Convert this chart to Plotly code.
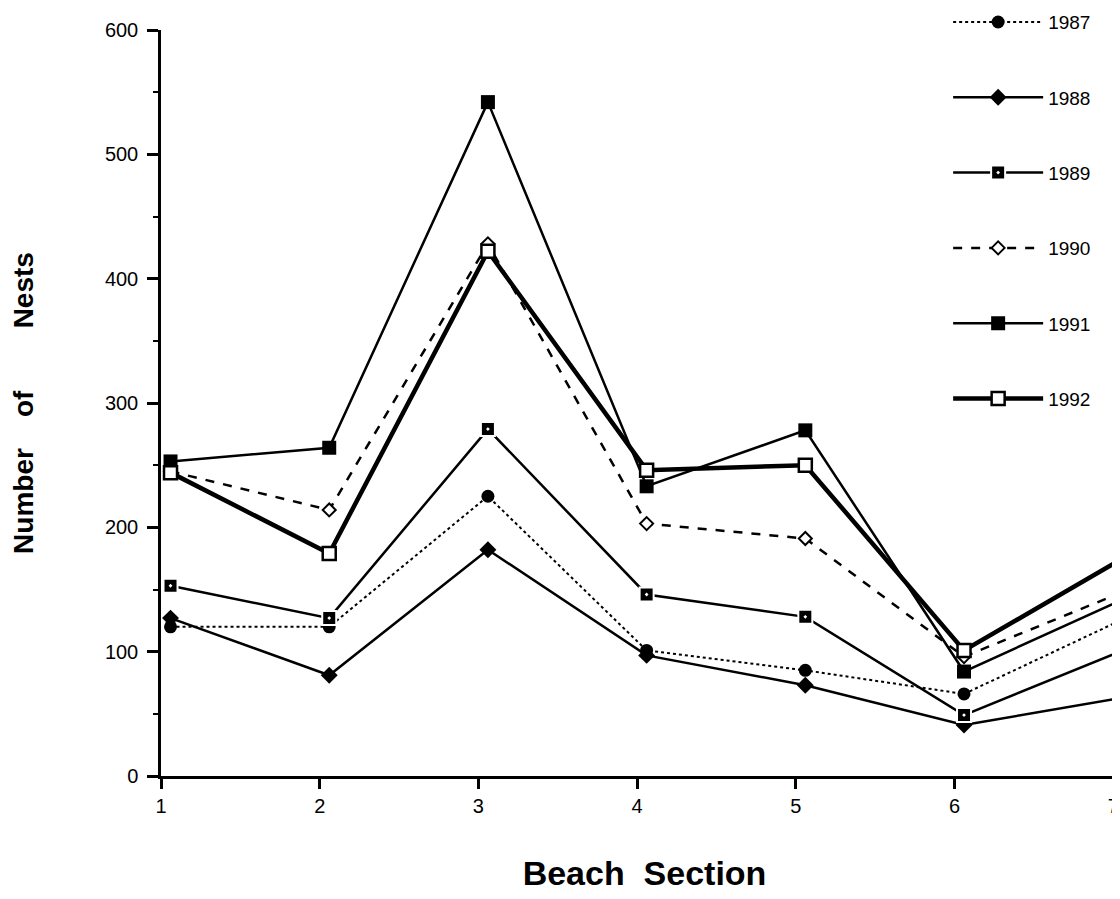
import plotly.graph_objects as go

# ── Data ─────────────────────────────────────────────────────────────────────
SECTIONS = [1, 2, 3, 4, 5, 6, 7]
TICK_TEXT = ["1", "2", "3", "4", "5", "6", "7"]
Y_TICKS = [0, 100, 200, 300, 400, 500, 600]

NESTS_1987 = [120, 120, 225, 101, 85, 66, 126]
NESTS_1988 = [127, 81, 182, 97, 73, 41, 63]
NESTS_1989 = [153, 127, 279, 146, 128, 49, 101]
NESTS_1990 = [245, 214, 428, 203, 191, 96, 148]
NESTS_1991 = [253, 264, 542, 233, 278, 84, 142]
NESTS_1992 = [244, 179, 422, 246, 250, 101, 175]

BLACK = "#000000"
WHITE = "#ffffff"
FONT = "Liberation Sans, Arial, Helvetica, sans-serif"
NB = "\u00a0"

# markers sit a little to the right of the tick marks in the original
TICK_SHIFT = 0.06
PX_PER_SECTION = 158.7

series = [
    ("1987", NESTS_1987, dict(color=BLACK, width=2, dash="dot"),
     dict(symbol="circle", size=13, color=BLACK)),
    ("1988", NESTS_1988, dict(color=BLACK, width=2.5),
     dict(symbol="diamond", size=13, color=BLACK)),
    ("1989", NESTS_1989, dict(color=BLACK, width=2.5),
     dict(symbol="square-dot", size=14, color=BLACK, line=dict(color=WHITE, width=2))),
    ("1990", NESTS_1990, dict(color=BLACK, width=2.5, dash="dash"),
     dict(symbol="diamond", size=10, color=WHITE, line=dict(color=BLACK, width=2))),
    ("1991", NESTS_1991, dict(color=BLACK, width=2.5),
     dict(symbol="square", size=14, color=BLACK)),
    ("1992", NESTS_1992, dict(color=BLACK, width=4.5),
     dict(symbol="square", size=13, color=WHITE, line=dict(color=BLACK, width=2.5))),
]

fig = go.Figure()
for name, values, line, marker in series:
    fig.add_trace(go.Scatter(
        x=SECTIONS, y=values, name=name, legendgroup=name,
        mode="lines+markers", line=line, marker=marker,
    ))

# the page body adds an 8px offset, margins are set to compensate
LEFT, TOP, BOTTOM = 153, 22, 131
plot_w = 1120 - LEFT

fig.update_layout(
    width=1120, height=899,
    margin=dict(l=LEFT, r=0, t=TOP, b=BOTTOM, autoexpand=False),
    paper_bgcolor=WHITE, plot_bgcolor=WHITE,
    font=dict(family=FONT, color=BLACK, size=20),
    showlegend=True,
    legend=dict(
        x=0.814, y=1.036, xanchor="left", yanchor="top",
        font=dict(size=19, family=FONT, color=BLACK),
        tracegroupgap=47.6, itemwidth=90, bgcolor="rgba(0,0,0,0)",
    ),
    xaxis=dict(
        range=[SECTIONS[0] - TICK_SHIFT, SECTIONS[0] - TICK_SHIFT + plot_w / PX_PER_SECTION],
        tickmode="array", tickvals=[s - TICK_SHIFT for s in SECTIONS], ticktext=TICK_TEXT,
        showline=True, linecolor=BLACK, linewidth=2.5,
        ticks="outside", ticklen=10, tickwidth=2.5, tickcolor=BLACK,
        showgrid=False, zeroline=False,
        tickfont=dict(size=20),
        title=dict(text=f"<b>Beach{NB*2}Section</b>", font=dict(size=34), standoff=46),
    ),
    yaxis=dict(
        range=[0, 600], tickmode="array", tickvals=Y_TICKS,
        showline=True, linecolor=BLACK, linewidth=2.5,
        ticks="outside", ticklen=11, tickwidth=2.5, tickcolor=BLACK,
        minor=dict(dtick=50, ticks="outside", ticklen=5, tickwidth=2, tickcolor=BLACK, showgrid=False),
        showgrid=False, zeroline=False,
        tickfont=dict(size=20), ticklabelstandoff=5,
        title=dict(text=f"<b>Number{NB*4}of{NB*8}Nests</b>", font=dict(size=28), standoff=70),
    ),
)

fig.write_html("out.html")
